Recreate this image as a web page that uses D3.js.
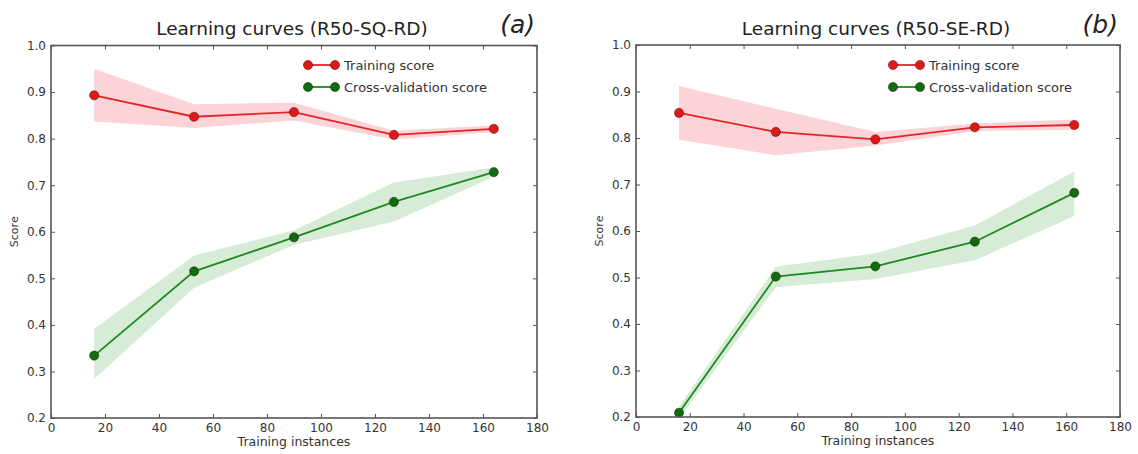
<!DOCTYPE html>
<html>
<head>
<meta charset="utf-8">
<script src="https://cdn.jsdelivr.net/npm/d3@7"></script>
<style>
  html, body { margin: 0; padding: 0; background: #fff; }
  svg { display: block; font-family: "DejaVu Sans", sans-serif; }
</style>
</head>
<body>
<svg id="chart" width="1138" height="454"></svg>
<script>
// ---------- data ----------
const xTicks = [0, 20, 40, 60, 80, 100, 120, 140, 160, 180];
const yTicks = [0.2, 0.3, 0.4, 0.5, 0.6, 0.7, 0.8, 0.9, 1.0];
const legendLabels = ["Training score", "Cross-validation score"];

// panel (a)
const sizesA = [16, 53, 90, 127, 164];
const trainA = [0.893, 0.847, 0.857, 0.808, 0.821];
const trainHiA = [0.950, 0.874, 0.877, 0.817, 0.828];
const trainLoA = [0.837, 0.823, 0.839, 0.798, 0.814];
const cvA = [0.334, 0.515, 0.588, 0.664, 0.728];
const cvHiA = [0.391, 0.549, 0.603, 0.706, 0.738];
const cvLoA = [0.284, 0.480, 0.572, 0.622, 0.718];

// panel (b)
const sizesB = [16, 52, 89, 126, 163];
const trainB = [0.854, 0.813, 0.797, 0.823, 0.828];
const trainHiB = [0.912, 0.863, 0.813, 0.831, 0.840];
const trainLoB = [0.796, 0.763, 0.784, 0.815, 0.818];
const cvB = [0.209, 0.502, 0.524, 0.577, 0.682];
const cvHiB = [0.222, 0.523, 0.552, 0.612, 0.728];
const cvLoB = [0.196, 0.479, 0.497, 0.537, 0.632];

const RED = "#e4232a", RED_FILL = "#fcd3d6", RED_MK = "#e01818";
const GREEN = "#1e8a1e", GREEN_FILL = "#d6ecd6", GREEN_MK = "#0d6e0d";
const FRAME = "#555";

const svg = d3.select("#chart");

function drawPanel(p) {
  const x = d3.scaleLinear().domain([0, 180]).range([p.left, p.right]);
  const y = d3.scaleLinear().domain([0.2, 1.0]).range([p.bottom, p.top]);
  const g = svg.append("g");

  const clipId = "clip-" + p.id;
  g.append("clipPath").attr("id", clipId).append("rect")
    .attr("x", p.left).attr("y", p.top)
    .attr("width", p.right - p.left).attr("height", p.bottom - p.top);

  const plot = g.append("g").attr("clip-path", `url(#${clipId})`);

  const series = [
    { mean: p.train, hi: p.trainHi, lo: p.trainLo, line: RED, fill: RED_FILL, mk: RED_MK },
    { mean: p.cv, hi: p.cvHi, lo: p.cvLo, line: GREEN, fill: GREEN_FILL, mk: GREEN_MK }
  ];

  const area = d3.area()
    .x((d, i) => x(p.sizes[i]))
    .y0(d => y(d[0]))
    .y1(d => y(d[1]));
  const line = d3.line().x((d, i) => x(p.sizes[i])).y(d => y(d));

  // bands first, then lines on top
  for (const s of series) {
    plot.append("path")
      .datum(s.lo.map((v, i) => [v, s.hi[i]]))
      .attr("d", area)
      .attr("fill", s.fill);
  }
  for (const s of series) {
    plot.append("path")
      .datum(s.mean)
      .attr("d", line)
      .attr("fill", "none")
      .attr("stroke", s.line)
      .attr("stroke-width", 1.8);
    plot.selectAll(null)
      .data(s.mean)
      .enter().append("circle")
      .attr("cx", (d, i) => x(p.sizes[i]))
      .attr("cy", d => y(d))
      .attr("r", 4.6)
      .attr("fill", s.mk)
      .attr("stroke", "#3a0a0a")
      .attr("stroke-opacity", 0.6)
      .attr("stroke-width", 0.8);
  }

  // axes, ticks pointing inward on all four sides
  const ax = g.append("g").attr("transform", `translate(0,${p.bottom})`)
    .call(d3.axisBottom(x).tickValues(xTicks).tickFormat(d3.format("d"))
      .tickSizeInner(-4).tickSizeOuter(0).tickPadding(5));
  const ay = g.append("g").attr("transform", `translate(${p.left},0)`)
    .call(d3.axisLeft(y).tickValues(yTicks).tickFormat(d3.format(".1f"))
      .tickSizeInner(-4).tickSizeOuter(0).tickPadding(5));
  const at = g.append("g").attr("transform", `translate(0,${p.top})`)
    .call(d3.axisTop(x).tickValues(xTicks).tickFormat("").tickSizeInner(-4).tickSizeOuter(0));
  const ar = g.append("g").attr("transform", `translate(${p.right},0)`)
    .call(d3.axisRight(y).tickValues(yTicks).tickFormat("").tickSizeInner(-4).tickSizeOuter(0));

  for (const a of [ax, ay, at, ar]) {
    a.select(".domain").remove();
    a.selectAll("line").attr("stroke", FRAME).attr("stroke-width", 1);
    a.selectAll("text").attr("fill", "#333").attr("font-size", 12)
      .attr("font-family", "DejaVu Sans, sans-serif");
  }

  g.append("rect")
    .attr("x", p.left).attr("y", p.top)
    .attr("width", p.right - p.left).attr("height", p.bottom - p.top)
    .attr("fill", "none").attr("stroke", FRAME).attr("stroke-width", 1.6);

  // labels
  const cx = (p.left + p.right) / 2;
  g.append("text").attr("x", cx).attr("y", p.bottom + 28)
    .attr("text-anchor", "middle").attr("font-size", 12.5).attr("fill", "#333")
    .text("Training instances");
  g.append("text")
    .attr("transform", `translate(${p.left - 33},${(p.top + p.bottom) / 2}) rotate(-90)`)
    .attr("text-anchor", "middle").attr("font-size", 11).attr("fill", "#333")
    .text("Score");
  g.append("text").attr("x", cx - 2).attr("y", 35)
    .attr("text-anchor", "middle").attr("font-size", 18.5).attr("fill", "#222")
    .text(p.title);
  g.append("text").attr("x", p.right - 2).attr("y", 33)
    .attr("text-anchor", "end").attr("font-size", 25).attr("font-style", "italic")
    .attr("fill", "#222")
    .text(p.tag);

  // legend (no frame)
  const lx = p.legendX;
  series.forEach((s, i) => {
    const ly = 65 + i * 22;
    const lg = g.append("g");
    lg.append("line").attr("x1", lx).attr("x2", lx + 27).attr("y1", ly).attr("y2", ly)
      .attr("stroke", s.line).attr("stroke-width", 1.8);
    for (const mx of [lx, lx + 27]) {
      lg.append("circle").attr("cx", mx).attr("cy", ly).attr("r", 4.6)
        .attr("fill", s.mk).attr("stroke", "#3a0a0a").attr("stroke-opacity", 0.6)
        .attr("stroke-width", 0.8);
    }
    lg.append("text").attr("x", lx + 36).attr("y", ly + 4.5)
      .attr("font-size", 13).attr("fill", "#333")
      .text(legendLabels[i]);
  });
}

drawPanel({
  id: "a", left: 51, right: 537, top: 45.5, bottom: 418, legendX: 308,
  title: "Learning curves (R50-SQ-RD)", tag: "(a)",
  sizes: sizesA, train: trainA, trainHi: trainHiA, trainLo: trainLoA,
  cv: cvA, cvHi: cvHiA, cvLo: cvLoA
});
drawPanel({
  id: "b", left: 636, right: 1120, top: 45, bottom: 417, legendX: 893,
  title: "Learning curves (R50-SE-RD)", tag: "(b)",
  sizes: sizesB, train: trainB, trainHi: trainHiB, trainLo: trainLoB,
  cv: cvB, cvHi: cvHiB, cvLo: cvLoB
});
</script>
</body>
</html>
